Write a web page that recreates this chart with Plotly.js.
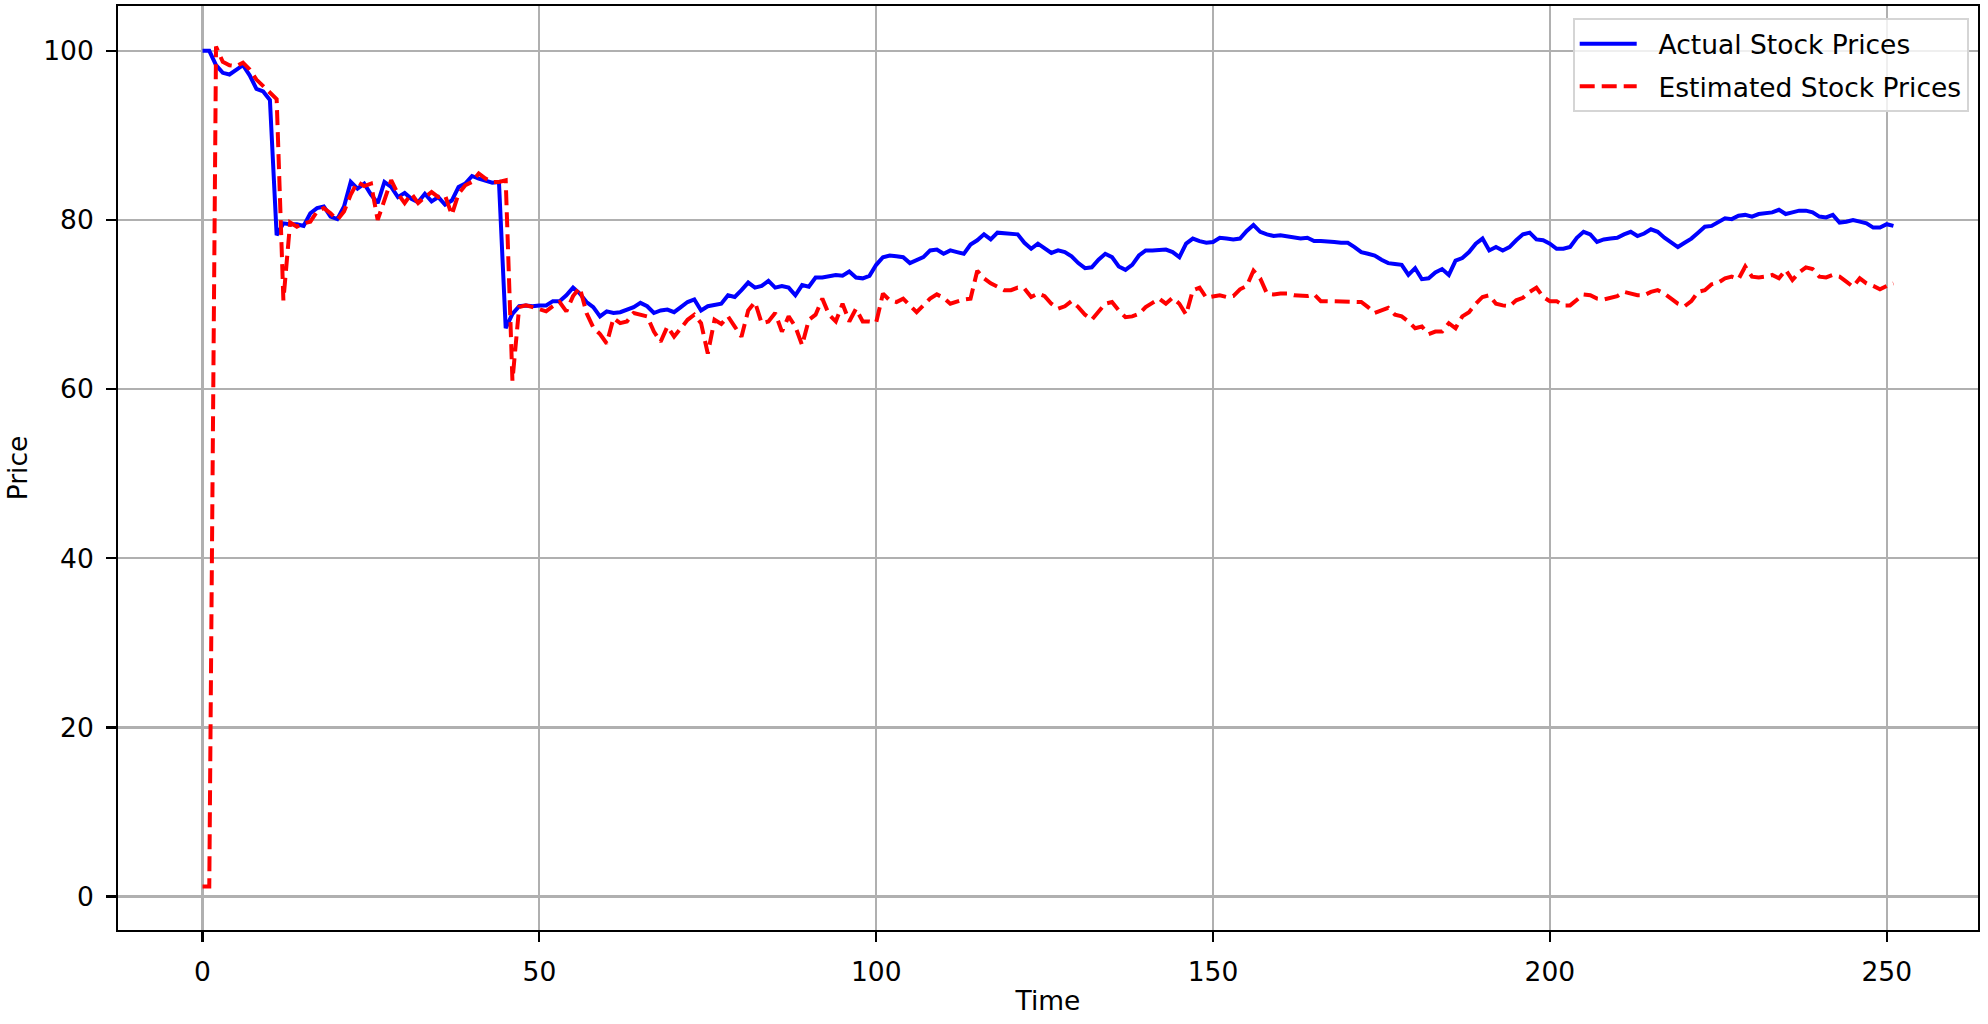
<!DOCTYPE html>
<html>
<head>
<meta charset="utf-8">
<script src="https://cdn.plot.ly/plotly-3.0.1.min.js"></script>
<style>
  body { margin: 0; background: #fff; }
  #chart { width: 1988px; height: 1024px; }
</style>
</head>
<body>
<div id="chart"></div>
<script>
// values, one per time step (0..251)
const actualPrices = [
  100.0, 100.0, 98.3, 97.4, 97.2, 97.7, 98.3, 97.1, 95.5, 95.2,
  94.2, 78.2, 79.6, 79.5, 79.5, 79.3, 80.8, 81.4, 81.6, 80.4,
  80.1, 81.6, 84.5, 83.7, 84.3, 83.0, 82.0, 84.5, 83.9, 82.7,
  83.2, 82.5, 82.1, 83.1, 82.2, 82.7, 81.8, 82.3, 83.9, 84.3,
  85.2, 84.9, 84.7, 84.4, 84.5, 67.2, 68.9, 69.8, 69.9, 69.8,
  69.9, 69.9, 70.4, 70.4, 71.1, 72.0, 71.3, 70.3, 69.7, 68.6,
  69.2, 69.0, 69.1, 69.4, 69.7, 70.2, 69.8, 69.0, 69.3, 69.4,
  69.1, 69.7, 70.3, 70.6, 69.3, 69.8, 69.9, 70.1, 71.1, 70.9,
  71.7, 72.6, 72.0, 72.2, 72.8, 72.0, 72.2, 72.0, 71.1, 72.3,
  72.1, 73.2, 73.2, 73.3, 73.5, 73.4, 73.9, 73.2, 73.1, 73.4,
  74.7, 75.6, 75.8, 75.7, 75.6, 74.9, 75.3, 75.6, 76.4, 76.5,
  76.0, 76.4, 76.2, 76.0, 77.1, 77.6, 78.3, 77.7, 78.5, 78.4,
  78.4, 78.3, 77.3, 76.6, 77.2, 76.6, 76.1, 76.4, 76.2, 75.7,
  74.9, 74.3, 74.4, 75.3, 76.0, 75.6, 74.5, 74.1, 74.7, 75.8,
  76.4, 76.4, 76.5, 76.5, 76.2, 75.6, 77.2, 77.8, 77.5, 77.3,
  77.4, 77.9, 77.8, 77.7, 77.8, 78.7, 79.4, 78.6, 78.3, 78.1,
  78.2, 78.1, 78.0, 77.8, 77.9, 77.5, 77.5, 77.5, 77.4, 77.3,
  77.3, 76.8, 76.2, 76.0, 75.8, 75.3, 74.9, 74.8, 74.7, 73.5,
  74.3, 73.0, 73.1, 73.8, 74.2, 73.5, 75.2, 75.5, 76.2, 77.2,
  77.8, 76.4, 76.8, 76.4, 76.8, 77.6, 78.3, 78.5, 77.7, 77.6,
  77.2, 76.6, 76.6, 76.8, 77.9, 78.6, 78.3, 77.4, 77.7, 77.8,
  77.9, 78.3, 78.6, 78.1, 78.4, 78.9, 78.6, 77.9, 77.3, 76.8,
  77.3, 77.8, 78.5, 79.2, 79.3, 79.7, 80.2, 80.1, 80.5, 80.6,
  80.4, 80.7, 80.8, 80.9, 81.2, 80.7, 80.9, 81.1, 81.1, 80.9,
  80.4, 80.3, 80.6, 79.7, 79.8, 80.0, 79.8, 79.6, 79.1, 79.1,
  79.5, 79.3
];

const estimatedPrices = [
  1.2, 1.2, 100.5, 98.7, 98.3, 98.2, 98.6, 97.8, 96.6, 95.8,
  95.0, 94.3, 70.5, 79.7, 79.2, 79.6, 79.8, 81.0, 81.4, 80.8,
  80.0, 81.0, 83.0, 84.5, 84.0, 84.3, 80.0, 82.5, 84.7, 83.1,
  82.0, 83.1, 82.0, 82.7, 83.3, 82.7, 82.9, 80.6, 83.1, 84.1,
  84.5, 85.5, 84.9, 84.5, 84.5, 84.7, 61.0, 69.7, 69.9, 69.7,
  69.4, 69.2, 69.8, 70.3, 69.2, 71.0, 72.0, 69.0, 67.3, 66.5,
  65.4, 68.4, 67.8, 68.0, 69.0, 68.8, 68.6, 66.8, 65.6, 67.4,
  66.2, 67.2, 68.2, 68.8, 67.8, 64.2, 68.2, 67.7, 68.6, 67.4,
  66.2, 69.3, 70.3, 67.8, 68.0, 69.0, 66.8, 68.6, 67.4, 65.2,
  68.2, 68.8, 70.7, 68.8, 68.0, 70.1, 68.0, 69.5, 68.0, 68.0,
  67.9, 71.3, 70.5, 70.3, 70.7, 69.9, 69.1, 69.9, 70.7, 71.2,
  70.8, 70.1, 70.4, 70.6, 70.7, 74.0, 73.1, 72.5, 72.1, 71.7,
  71.7, 72.0, 71.9, 70.9, 71.3, 71.0, 70.1, 69.5, 69.8, 70.4,
  69.7, 68.8, 68.2, 69.1, 70.1, 70.3, 69.3, 68.5, 68.6, 68.9,
  69.7, 70.2, 70.7, 70.1, 70.8, 70.1, 68.8, 71.7, 72.0, 70.8,
  70.9, 71.1, 70.9, 71.0, 71.8, 72.2, 74.0, 73.1, 71.3, 71.2,
  71.3, 71.3, 71.1, 71.1, 71.0, 71.2, 70.4, 70.4, 70.4, 70.4,
  70.4, 70.4, 70.3, 69.7, 69.0, 69.3, 69.6, 68.8, 68.6, 68.0,
  67.2, 67.4, 66.5, 66.8, 66.8, 67.8, 67.2, 68.6, 69.1, 70.1,
  70.9, 71.1, 70.1, 69.9, 69.8, 70.5, 70.8, 71.5, 72.0, 70.9,
  70.4, 70.4, 69.9, 69.9, 70.5, 71.2, 71.1, 70.7, 70.6, 70.8,
  71.0, 71.5, 71.3, 71.1, 71.1, 71.5, 71.7, 71.3, 70.7, 70.1,
  69.8, 70.4, 71.5, 71.7, 72.4, 72.6, 73.1, 73.3, 73.0, 74.5,
  73.3, 73.2, 73.3, 73.5, 73.1, 74.1, 72.9, 73.8, 74.4, 74.2,
  73.3, 73.2, 73.5, 73.3, 72.7, 72.1, 73.1, 72.5, 72.2, 71.8,
  72.2, 72.5
];

const timeSteps = actualPrices.map((_, i) => i);

const xTicks = [0, 50, 100, 150, 200, 250];
const yTicks = [0, 20, 40, 60, 80, 100];

const seriesNames = ['Actual Stock Prices', 'Estimated Stock Prices'];

const fontFamily = '"DejaVu Sans", sans-serif';
const fontSize = 26.5;
// plotly puts the legend text right against the line sample, pad it a little
const legendPad = '\u00a0\u00a0';

const traces = [
  {
    x: timeSteps,
    y: actualPrices,
    mode: 'lines',
    name: legendPad + seriesNames[0],
    legendgroup: 'actual',
    line: { color: '#0000ff', width: 4 }
  },
  {
    x: timeSteps,
    y: estimatedPrices,
    mode: 'lines',
    name: legendPad + seriesNames[1],
    legendgroup: 'estimated',
    line: { color: '#ff0000', width: 4, dash: '15px,7px' }
  }
];

const commonAxis = {
  showline: true,
  mirror: true,
  linecolor: '#000',
  linewidth: 2.2,
  ticks: 'outside',
  ticklen: 9.7,
  tickwidth: 2.2,
  tickcolor: '#000',
  ticklabelstandoff: 7,
  showgrid: true,
  gridcolor: '#b0b0b0',
  gridwidth: 2.2,
  zeroline: false,
  tickfont: { family: fontFamily, size: fontSize, color: '#000' }
};

const layout = {
  width: 1988,
  height: 1024,
  margin: { t: 6, r: 10, b: 94, l: 118 },
  paper_bgcolor: '#fff',
  plot_bgcolor: '#fff',
  font: { family: fontFamily, size: fontSize, color: '#000' },
  xaxis: {
    ...commonAxis,
    range: [-12.55, 263.55],
    tickmode: 'array',
    tickvals: xTicks,
    title: { text: 'Time', font: { family: fontFamily, size: fontSize }, standoff: 6 }
  },
  yaxis: {
    ...commonAxis,
    range: [-3.95, 105.3],
    tickmode: 'array',
    tickvals: yTicks,
    title: { text: 'Price', font: { family: fontFamily, size: fontSize }, standoff: 8 }
  },
  showlegend: true,
  legend: {
    x: 0.995,
    y: 0.987,
    xanchor: 'right',
    yanchor: 'top',
    bgcolor: 'rgba(255,255,255,0.8)',
    bordercolor: '#d5d5d5',
    borderwidth: 2,
    itemwidth: 57,
    font: { family: fontFamily, size: fontSize, color: '#000' },
    tracegroupgap: 5
  }
};

Plotly.newPlot('chart', traces, layout, { displayModeBar: false, staticPlot: true });
</script>
</body>
</html>
